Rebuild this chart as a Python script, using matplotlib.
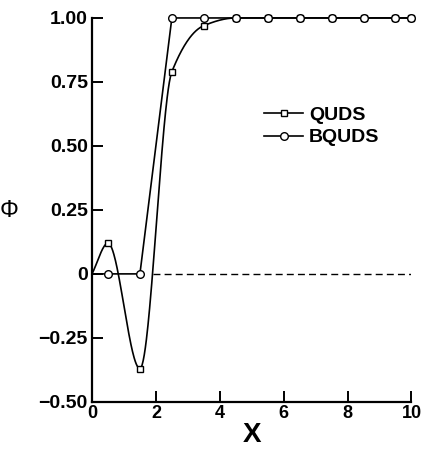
import numpy as np
import matplotlib
matplotlib.use("Agg")
import matplotlib.pyplot as plt
from matplotlib.lines import Line2D

# data
x_nodes = [0, 0.5, 1.5, 2.5, 3.5, 4.5, 5.5, 6.5, 7.5, 8.5, 9.5, 10]
quds = [0, 0.12, -0.37, 0.79, 0.97, 1.0, 1.0, 1.0, 1.0, 1.0, 1.0, 1.0]
bquds = [0, 0.0, 0.0, 1.0, 1.0, 1.0, 1.0, 1.0, 1.0, 1.0, 1.0, 1.0]
xticks = [0, 2, 4, 6, 8, 10]
yticks = [-0.5, -0.25, 0, 0.25, 0.5, 0.75, 1.0]
ylabels = ["\u22120.50", "\u22120.25", "0", "0.25", "0.50", "0.75", "1.00"]


def pchip(x, y, xs):
    # monotone cubic (Fritsch-Carlson) for drawing a smooth line through nodes
    x = np.asarray(x, float)
    y = np.asarray(y, float)
    h = np.diff(x)
    d = np.diff(y) / h
    m = np.zeros_like(y)
    for k in range(1, len(x) - 1):
        if d[k - 1] * d[k] > 0:
            w1 = 2 * h[k] + h[k - 1]
            w2 = h[k] + 2 * h[k - 1]
            m[k] = (w1 + w2) / (w1 / d[k - 1] + w2 / d[k])
    m[0] = d[0]
    m[-1] = d[-1]
    idx = np.clip(np.searchsorted(x, xs) - 1, 0, len(x) - 2)
    t = (xs - x[idx]) / h[idx]
    h00 = 2 * t**3 - 3 * t**2 + 1
    h10 = t**3 - 2 * t**2 + t
    h01 = -2 * t**3 + 3 * t**2
    h11 = t**3 - t**2
    return h00 * y[idx] + h10 * h[idx] * m[idx] + h01 * y[idx + 1] + h11 * h[idx] * m[idx + 1]


plt.rcParams["font.family"] = ["Liberation Sans", "DejaVu Sans"]
plt.rcParams["font.weight"] = "bold"

fig = plt.figure(figsize=(4.22, 4.49), dpi=100)
ax = fig.add_axes([0.218, 0.105, 0.757, 0.855])

xs = np.linspace(0, 10, 600)
ax.plot(xs, pchip(x_nodes, quds, xs), color="black", lw=1.2, clip_on=False)
ax.plot(x_nodes[1:], quds[1:], "s", ms=5, mfc="white", mec="black", mew=1.0, clip_on=False, zorder=3)

ax.plot(x_nodes, bquds, color="black", lw=1.2, clip_on=False)
ax.plot(x_nodes[1:], bquds[1:], "o", ms=5.5, mfc="white", mec="black", mew=1.0, clip_on=False, zorder=4)

ax.hlines(0, 1.9, 10, colors="black", linestyles=(0, (5, 3)), lw=1.0)

ax.set_xlim(0, 10)
ax.set_ylim(-0.5, 1.0)
ax.set_xticks(xticks)
ax.set_yticks(yticks)
ax.set_yticklabels(ylabels)
for s in ["top", "right"]:
    ax.spines[s].set_visible(False)
for s in ["left", "bottom"]:
    ax.spines[s].set_linewidth(1.6)
ax.tick_params(direction="in", length=8, width=1.4, labelsize=14, pad=3)
ax.tick_params(axis="x", labelsize=13, pad=2)

ax.set_xlabel("X", fontsize=20, fontweight="bold", labelpad=0)
ax.text(-0.26, 0.496, "\u03a6", transform=ax.transAxes, fontsize=17,
        ha="center", va="center", fontweight="normal")

handles = [
    Line2D([], [], color="black", lw=1.2, marker="s", ms=5, mfc="white", mec="black"),
    Line2D([], [], color="black", lw=1.2, marker="o", ms=5.5, mfc="white", mec="black"),
]
ax.legend(handles, ["QUDS", "BQUDS"], loc="upper left", bbox_to_anchor=(0.515, 0.79),
          frameon=False, fontsize=14, handlelength=2.0, handletextpad=0.3,
          labelspacing=0.25, borderaxespad=0)

fig.savefig("out.png", dpi=100)
